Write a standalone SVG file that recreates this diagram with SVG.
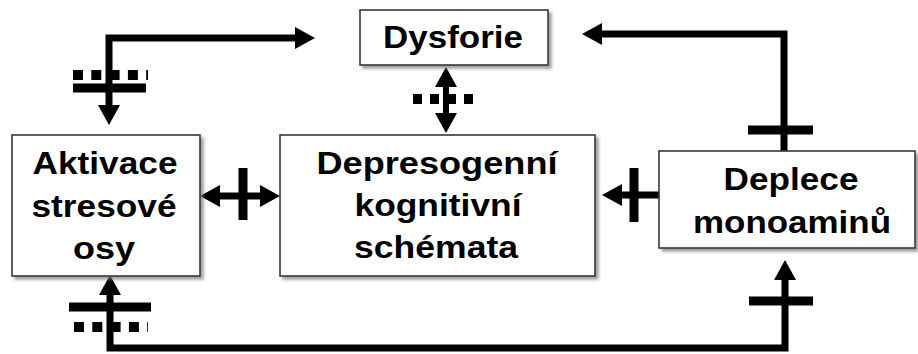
<svg xmlns="http://www.w3.org/2000/svg" width="918" height="354" viewBox="0 0 918 354">
<style>
.box{fill:#fff;stroke:#2a2a2a;stroke-width:1.5;filter:url(#sh)}
.lbl{font-family:"Liberation Sans",Arial,sans-serif;font-weight:bold;font-size:32px;fill:#000;text-anchor:middle}
.ln{fill:none;stroke:#000;stroke-width:7}
.ar{marker-start:url(#ah);marker-end:url(#ah)}
.ae{marker-end:url(#ah)}
.bar{stroke:#000;stroke-width:9}
.dot{stroke:#000;stroke-width:10;stroke-dasharray:10 8.3}
</style>
<defs>
<filter id="sh" x="-10%" y="-10%" width="130%" height="130%">
<feDropShadow dx="3" dy="3" stdDeviation="1.8" flood-color="#777" flood-opacity="0.7"/>
</filter>
<marker id="ah" markerUnits="userSpaceOnUse" markerWidth="22" markerHeight="22" refX="2" refY="11" orient="auto-start-reverse" viewBox="0 0 22 22">
<path d="M0,0 L20,11 L0,22 Z" fill="#000"/>
</marker>
</defs>

<g id="connectors">
<path class="ln ar" d="M109,107 L109,38 L297,38"/>
<line class="dot" x1="73" y1="75" x2="148" y2="75"/>
<line class="bar" x1="73" y1="88" x2="146" y2="88"/>
<path class="ln ar" d="M446,85 L446,115" style="stroke-width:6"/>
<line class="dot" x1="413" y1="99" x2="478" y2="99" style="stroke-dasharray:9 8"/>
<path class="ln ae" d="M784,151 L784,34 L600,34"/>
<line class="bar" x1="748" y1="130" x2="813" y2="130"/>
<path class="ln ar" d="M218,196 L262,196"/>
<line class="bar" x1="243" y1="168" x2="243" y2="220"/>
<path class="ln ae" d="M659,195 L620,195"/>
<line class="bar" x1="634" y1="168" x2="634" y2="222"/>
<path class="ln ar" d="M785,278 L785,348 L110,348 L110,293"/>
<line class="bar" x1="749" y1="301" x2="813" y2="301"/>
<line class="bar" x1="69" y1="307" x2="151" y2="307"/>
<line class="dot" x1="74" y1="327" x2="148" y2="327"/>
</g>

<g id="dysforie">
<rect class="box" x="360" y="10" width="188" height="55"/>
<text class="lbl" x="453" y="48" textLength="140" lengthAdjust="spacingAndGlyphs">Dysforie</text>
</g>

<g id="aktivace">
<rect class="box" x="12" y="135" width="188" height="141"/>
<text class="lbl" x="105" y="174" textLength="145" lengthAdjust="spacingAndGlyphs">Aktivace</text>
<text class="lbl" x="104" y="217" textLength="145" lengthAdjust="spacingAndGlyphs">stresové</text>
<text class="lbl" x="104" y="259" textLength="62" lengthAdjust="spacingAndGlyphs">osy</text>
</g>

<g id="depresogenni">
<rect class="box" x="280" y="135" width="315" height="141"/>
<text class="lbl" x="437" y="174" textLength="241" lengthAdjust="spacingAndGlyphs">Depresogenní</text>
<text class="lbl" x="438" y="216" textLength="167" lengthAdjust="spacingAndGlyphs">kognitivní</text>
<text class="lbl" x="436" y="258" textLength="164" lengthAdjust="spacingAndGlyphs">schémata</text>
</g>

<g id="deplece">
<rect class="box" x="659" y="151" width="256" height="97"/>
<text class="lbl" x="791" y="190" textLength="135" lengthAdjust="spacingAndGlyphs">Deplece</text>
<text class="lbl" x="792" y="233" textLength="198" lengthAdjust="spacingAndGlyphs">monoaminů</text>
</g>
</svg>
